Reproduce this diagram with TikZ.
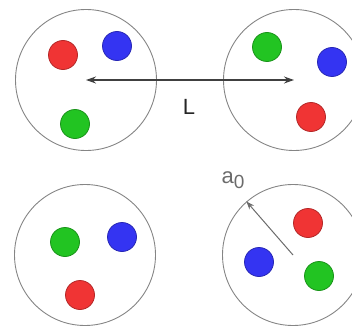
\documentclass[tikz,border=0pt]{standalone}
\usepackage{fontspec}
\setmainfont{Liberation Sans}
\usetikzlibrary{arrows.meta, positioning}
\definecolor{ionRed}{HTML}{F03434}
\definecolor{ionBlue}{HTML}{3434F2}
\definecolor{ionGreen}{HTML}{22C422}
\definecolor{cellGray}{HTML}{858585}
\definecolor{textMuted}{HTML}{6B6B6B}
\tikzset{
  cell/.style={circle, draw=cellGray, line width=0.9pt, minimum size=141pt, inner sep=0pt},
  ionR/.style={circle, fill=ionRed, draw=ionRed!75!black, line width=0.8pt,
               minimum size=29pt, inner sep=0pt},
  ionB/.style={circle, fill=ionBlue, draw=ionBlue!75!black, line width=0.8pt,
               minimum size=29pt, inner sep=0pt},
  ionG/.style={circle, fill=ionGreen, draw=ionGreen!75!black, line width=0.8pt,
               minimum size=29pt, inner sep=0pt},
  arrowK/.style={{Stealth[length=10pt, width=7pt]}-{Stealth[length=10pt, width=7pt]},
                 black!75, line width=1.2pt},
  arrowA/.style={-{Stealth[length=8pt, width=6pt]}, textMuted, line width=1pt},
}

\begin{document}
\begin{tikzpicture}[x=1pt, y=-1pt, font=\fontsize{22}{24}\selectfont]
    \useasboundingbox (0,0) rectangle (352,326);
    \clip (0,0) rectangle (352,326);
    % the four cells
    \node[cell] (tl) at (86,80) {};
    \node[cell] (tr) at (294,80) {};
    \node[cell] (bl) at (85,255) {};
    \node[cell] (br) at (293,255) {};
    % ions
    \node[ionR] (tlR) at (63,55) {};
    \node[ionB] (tlB) at (117,46) {};
    \node[ionG] (tlG) at (75,124) {};
    \node[ionG] (trG) at (267,47) {};
    \node[ionB] (trB) at (332,62) {};
    \node[ionR] (trR) at (311,117) {};
    \node[ionG] (blG) at (65,242) {};
    \node[ionB] (blB) at (122,237) {};
    \node[ionR] (blR) at (80,295) {};
    \node[ionR] (brR) at (308,223) {};
    \node[ionB] (brB) at (259,262) {};
    \node[ionG] (brG) at (319,276) {};
    % distance and radius
    \draw[arrowK] (tl.center) -- (tr.center);
    \node[text=black!85] (len) at (189,107) {L};
    \draw[arrowA] (br.center) -- (br.131);
    \node[text=textMuted] (a0) at (233,180) {a\raisebox{-5pt}{\fontsize{19}{20}\selectfont 0}};
\end{tikzpicture}
\end{document}
